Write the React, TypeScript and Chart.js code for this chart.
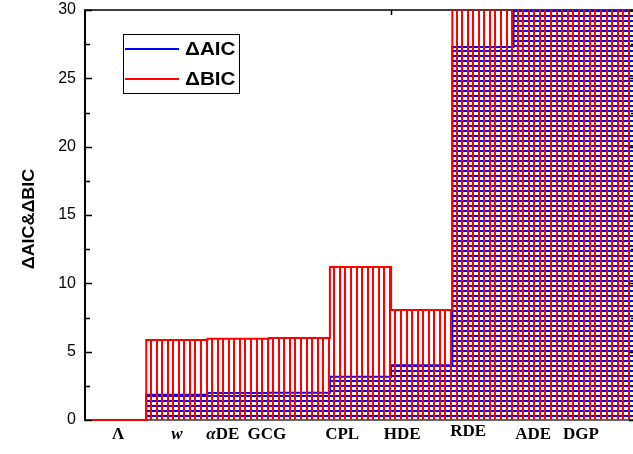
import { useEffect, useRef } from "react";
import { Chart, registerables } from "chart.js";
Chart.register(...registerables);

const categories = ["Λ", "w", "αDE", "GCG", "CPL", "HDE", "RDE", "ADE", "DGP"];
// values above 30 run off the top of the plot
const deltaAIC = [0, 1.85, 1.97, 2.0, 3.17, 4.0, 27.3, 35, 35];
const deltaBIC = [0, 5.85, 5.95, 6.0, 11.2, 8.05, 35, 35, 35];
const labelPositions = [0.54, 1.5, 2.25, 2.97, 4.2, 5.18, 6.26, 7.32, 8.1];
const yTickValues = [0, 2.5, 5, 7.5, 10, 12.5, 15, 17.5, 20, 22.5, 25, 27.5, 30];
const topTickValues = [5];
const seriesNames = ["ΔAIC", "ΔBIC"];
const yTitle = "ΔAIC&ΔBIC";

function stepPoints(vals: number[]) {
  const pts = vals.map((v, i) => ({ x: i, y: v }));
  pts.push({ x: vals.length, y: vals[vals.length - 1] });
  return pts;
}

function makePattern(kind: "h" | "v", color: string) {
  const c = document.createElement("canvas");
  const ctx = c.getContext("2d")!;
  if (kind === "v") {
    c.width = 50;
    c.height = 10;
    ctx.fillStyle = color;
    for (let i = 0; i < 9; i++) {
      const x = Math.round(i * (50 / 9));
      ctx.fillRect(x, 0, 2, 10);
    }
  } else {
    c.width = 10;
    c.height = 5;
    ctx.fillStyle = color;
    ctx.fillRect(0, 0, 10, 2);
  }
  return ctx.createPattern(c, "repeat")!;
}

const SANS = '"Liberation Sans", Arial, sans-serif';
const SERIF = '"Liberation Serif", "Times New Roman", serif';

const decor = {
  id: "decor",
  beforeDatasetsDraw(chart: any) {
    const { ctx, chartArea: a } = chart;
    ctx.save();
    ctx.strokeStyle = "#000";
    ctx.lineWidth = 1.5;
    ctx.beginPath();
    ctx.moveTo(a.left, a.top);
    ctx.lineTo(a.right, a.top);
    ctx.moveTo(a.right, a.top);
    ctx.lineTo(a.right, a.bottom);
    ctx.stroke();
    ctx.strokeStyle = "#333";
    ctx.beginPath();
    ctx.moveTo(a.left, a.bottom);
    ctx.lineTo(a.right, a.bottom);
    ctx.stroke();
    ctx.restore();
  },
  afterDatasetsDraw(chart: any) {
    const { ctx, chartArea: a, scales } = chart;
    ctx.save();
    ctx.strokeStyle = "#000";
    ctx.lineWidth = 2;
    ctx.beginPath();
    ctx.moveTo(a.left, a.top - 0.75);
    ctx.lineTo(a.left, a.bottom + 1);
    ctx.stroke();
    ctx.lineWidth = 1.5;
    ctx.beginPath();
    yTickValues.forEach((v) => {
      const y = Math.round(scales.y.getPixelForValue(v)) + 0.5;
      const len = v % 5 === 0 ? 7 : 5;
      ctx.moveTo(a.left, y);
      ctx.lineTo(a.left + len, y);
      ctx.moveTo(a.right, y);
      ctx.lineTo(a.right - len, y);
    });
    topTickValues.forEach((v) => {
      const x = Math.round(scales.x.getPixelForValue(v)) + 0.5;
      ctx.moveTo(x, a.top);
      ctx.lineTo(x, a.top + 5);
    });
    ctx.stroke();
    ctx.restore();
  },
  afterDraw(chart: any) {
    const { ctx, chartArea: a, scales } = chart;
    ctx.save();
    // y title
    ctx.fillStyle = "#000";
    ctx.translate(30, (a.top + a.bottom) / 2 + 4);
    ctx.rotate(-Math.PI / 2);
    ctx.scale(1.12, 1);
    ctx.font = `bold 16px ${SANS}`;
    ctx.textAlign = "center";
    ctx.textBaseline = "middle";
    ctx.fillText(yTitle, 0, 0);
    ctx.restore();

    // x labels
    ctx.save();
    ctx.fillStyle = "#000";
    ctx.textBaseline = "middle";
    const F = 17;
    categories.forEach((lab, i) => {
      const cx = scales.x.getPixelForValue(labelPositions[i]);
      const y = a.bottom + 15 - (lab === "RDE" ? 3 : 0);
      if (lab.startsWith("α")) {
        ctx.font = `italic bold ${F}px ${SERIF}`;
        const w1 = ctx.measureText("α").width;
        ctx.font = `bold ${F}px ${SERIF}`;
        const w2 = ctx.measureText(lab.slice(1)).width;
        const x0 = cx - (w1 + w2) / 2;
        ctx.textAlign = "left";
        ctx.font = `italic bold ${F}px ${SERIF}`;
        ctx.fillText("α", x0, y);
        ctx.font = `bold ${F}px ${SERIF}`;
        ctx.fillText(lab.slice(1), x0 + w1, y);
      } else {
        ctx.textAlign = "center";
        ctx.font = lab === "w" ? `italic bold ${F}px ${SERIF}` : `bold ${F}px ${SERIF}`;
        ctx.fillText(lab, cx, y);
      }
    });
    ctx.restore();

    // legend
    ctx.save();
    const lx = 123.5, ly = 34.5, lw = 116, lh = 59;
    ctx.fillStyle = "#fff";
    ctx.fillRect(lx, ly, lw, lh);
    ctx.strokeStyle = "#000";
    ctx.lineWidth = 1;
    ctx.strokeRect(lx, ly, lw, lh);
    const colors = ["#0000ff", "#ff0000"];
    const rows = [49, 79];
    seriesNames.forEach((n, i) => {
      ctx.strokeStyle = colors[i];
      ctx.lineWidth = 2;
      ctx.beginPath();
      ctx.moveTo(125, rows[i]);
      ctx.lineTo(179, rows[i]);
      ctx.stroke();
      ctx.save();
      ctx.translate(185, rows[i] + 1);
      ctx.scale(1.15, 1);
      ctx.fillStyle = "#000";
      ctx.font = `bold 18px ${SANS}`;
      ctx.textAlign = "left";
      ctx.textBaseline = "middle";
      ctx.fillText(n, 0, 0);
      ctx.restore();
    });
    ctx.restore();
  },
};

export default function App() {
  const ref = useRef<HTMLCanvasElement>(null);
  useEffect(() => {
    document.body.style.margin = "0";
    document.body.style.overflow = "hidden";
    const clip = { left: 2, top: 0, right: 0, bottom: 3 };
    const chart = new Chart(ref.current!, {
      type: "line",
      data: {
        datasets: [
          {
            label: seriesNames[0],
            data: stepPoints(deltaAIC),
            stepped: true,
            borderColor: "#0000ff",
            borderWidth: 2,
            backgroundColor: makePattern("h", "#0000ff"),
            fill: "origin",
            pointRadius: 0,
            order: 2,
            clip,
          },
          {
            label: seriesNames[1],
            data: stepPoints(deltaBIC),
            stepped: true,
            borderColor: "#ff0000",
            borderWidth: 2,
            backgroundColor: makePattern("v", "#ff0000"),
            fill: "origin",
            pointRadius: 0,
            order: 1,
            clip,
          },
        ],
      },
      options: {
        responsive: false,
        animation: false,
        devicePixelRatio: 1,
        layout: { padding: { top: 10, right: 4, left: 0, bottom: 0 } },
        plugins: { legend: { display: false }, tooltip: { enabled: false } },
        scales: {
          x: {
            type: "linear",
            min: 0,
            max: categories.length,
            ticks: { display: false },
            grid: { display: false, drawTicks: false },
            border: { display: false },
            afterFit: (s: any) => {
              s.height = 34;
              s.paddingLeft = 0;
              s.paddingRight = 0;
              s.paddingTop = 0;
              s.paddingBottom = 0;
            },
          },
          y: {
            min: 0,
            max: 30,
            ticks: {
              stepSize: 5,
              padding: 9,
              color: "#000",
              font: { family: SANS, size: 16 },
            },
            grid: { display: false, drawTicks: false },
            border: { display: false },
            afterFit: (s: any) => {
              s.width = 85;
              s.paddingTop = 0;
              s.paddingBottom = 0;
              s.paddingLeft = 0;
              s.paddingRight = 0;
            },
          },
        },
      },
      plugins: [decor],
    } as any);
    return () => chart.destroy();
  }, []);
  return (
    <div style={{ width: 633, height: 454, overflow: "hidden" }}>
      <canvas ref={ref} width={640} height={454} style={{ display: "block" }} />
    </div>
  );
}
